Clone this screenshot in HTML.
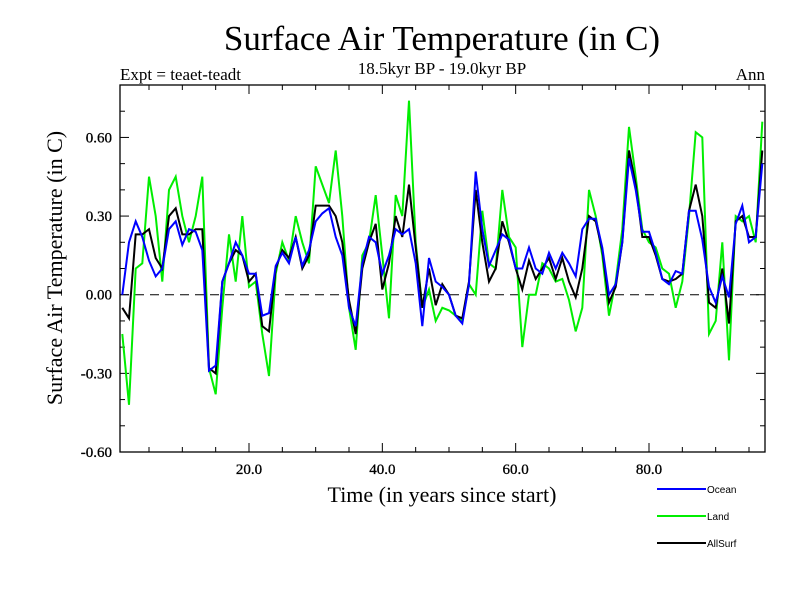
<!DOCTYPE html>
<html><head><meta charset="utf-8"><style>
body{margin:0;background:#fff;}
svg{display:block;font-family:"Liberation Serif",serif;}
.leg{font-family:"Liberation Sans",sans-serif;font-size:10px;}
</style></head><body>
<svg id="chart" width="800" height="600" viewBox="0 0 800 600" xmlns="http://www.w3.org/2000/svg">
<rect width="800" height="600" fill="#fff"/>
<text x="442" y="50" font-size="35" text-anchor="middle">Surface Air Temperature (in C)</text>
<text x="442" y="74" font-size="17" text-anchor="middle">18.5kyr BP - 19.0kyr BP</text>
<text x="120" y="80" font-size="17">Expt = teaet-teadt</text>
<text x="765" y="80" font-size="17" text-anchor="end">Ann</text>
<text transform="translate(62,268) rotate(-90)" font-size="22" text-anchor="middle">Surface Air Temperature (in C)</text>
<text x="442" y="502" font-size="22" text-anchor="middle">Time (in years since start)</text>
<g id="axes"></g>
<g id="series"></g>
<rect x="120" y="85" width="645" height="367" fill="none" stroke="#000" stroke-width="1.3"/>
<g class="leg">
<line x1="657" y1="489" x2="706" y2="489" stroke="#0000ff" stroke-width="2"/>
<text x="707" y="493">Ocean</text>
<line x1="657" y1="516" x2="706" y2="516" stroke="#00ee00" stroke-width="2"/>
<text x="707" y="520">Land</text>
<line x1="657" y1="543" x2="706" y2="543" stroke="#000" stroke-width="2"/>
<text x="707" y="547">AllSurf</text>
</g>
</svg>
<script>
const ocean=[0.0,0.2,0.28,0.22,0.13,0.07,0.1,0.25,0.28,0.19,0.25,0.24,0.17,-0.29,-0.27,0.05,0.12,0.2,0.15,0.08,0.08,-0.08,-0.07,0.11,0.16,0.12,0.22,0.11,0.17,0.28,0.31,0.33,0.22,0.15,-0.05,-0.12,0.12,0.22,0.2,0.08,0.15,0.25,0.23,0.25,0.12,-0.12,0.14,0.05,0.03,0.0,-0.08,-0.11,0.04,0.47,0.25,0.11,0.17,0.23,0.21,0.1,0.1,0.18,0.1,0.08,0.16,0.1,0.16,0.12,0.07,0.25,0.29,0.29,0.18,0.0,0.04,0.2,0.52,0.4,0.24,0.24,0.16,0.06,0.04,0.09,0.08,0.32,0.32,0.21,0.03,-0.03,0.07,-0.01,0.27,0.34,0.2,0.22,0.5];
const land=[-0.15,-0.42,0.1,0.12,0.45,0.3,0.05,0.4,0.45,0.3,0.2,0.3,0.45,-0.28,-0.38,-0.05,0.23,0.05,0.3,0.03,0.05,-0.15,-0.31,0.08,0.2,0.13,0.3,0.2,0.12,0.49,0.42,0.35,0.55,0.3,-0.05,-0.21,0.15,0.2,0.38,0.15,-0.09,0.38,0.3,0.74,0.2,-0.05,0.02,-0.1,-0.05,-0.06,-0.08,-0.1,0.04,0.0,0.32,0.12,0.1,0.4,0.22,0.18,-0.2,0.0,0.0,0.12,0.1,0.05,0.06,-0.02,-0.14,-0.05,0.4,0.3,0.15,-0.08,0.05,0.25,0.64,0.45,0.25,0.2,0.18,0.1,0.08,-0.05,0.05,0.3,0.62,0.6,-0.15,-0.1,0.2,-0.25,0.3,0.28,0.3,0.2,0.66];
const allsurf=[-0.05,-0.09,0.23,0.23,0.25,0.14,0.1,0.3,0.33,0.23,0.23,0.25,0.25,-0.28,-0.3,0.05,0.12,0.17,0.15,0.05,0.08,-0.12,-0.14,0.1,0.17,0.14,0.22,0.1,0.15,0.34,0.34,0.34,0.3,0.2,-0.02,-0.15,0.1,0.2,0.27,0.02,0.12,0.3,0.22,0.42,0.18,-0.05,0.1,-0.04,0.04,0.0,-0.08,-0.09,0.05,0.4,0.2,0.05,0.1,0.28,0.2,0.1,0.02,0.13,0.06,0.1,0.14,0.06,0.14,0.05,-0.01,0.1,0.3,0.28,0.17,-0.03,0.03,0.2,0.55,0.42,0.22,0.22,0.15,0.06,0.05,0.06,0.08,0.32,0.42,0.3,-0.03,-0.05,0.1,-0.11,0.28,0.3,0.22,0.22,0.55];
const yTicks=[-0.6,-0.3,0.0,0.3,0.6];
const yTickLabels=["-0.60","-0.30","0.00","0.30","0.60"];
const xTicks=[20,40,60,80];
const xTickLabels=["20.0","40.0","60.0","80.0"];

const NS="http://www.w3.org/2000/svg";
const X0=0.65,X1=97.4,Y0=-0.6,Y1=0.8,L=120,R=765,T=85,B=452;
const xs=v=>L+(v-X0)/(X1-X0)*(R-L);
const ys=v=>B-(v-Y0)/(Y1-Y0)*(B-T);
const axes=document.getElementById('axes');
function mk(tag,attrs,parent){const e=document.createElementNS(NS,tag);for(const k in attrs)e.setAttribute(k,attrs[k]);parent.appendChild(e);return e;}
for(let v=-0.6;v<=0.8001;v+=0.1){
  const y=ys(v);const major=Math.abs(Math.round(v*10)%3)===0;const len=major?9:5;
  const t1=mk('line',{x1:L,x2:L+len,y1:y,y2:y,stroke:'#000','stroke-width':1},axes);
  
  
  const t2=mk('line',{x1:R,x2:R-len,y1:y,y2:y,stroke:'#000','stroke-width':1},axes);
  
  
}
yTicks.forEach((v,i)=>{
  const t=mk('text',{x:L-8,y:ys(v)+5,'font-size':15,'text-anchor':'end','stroke':'#000','stroke-width':0.3},axes);t.textContent=yTickLabels[i];
  
  
});
for(let v=5;v<X1;v+=5){
  const x=xs(v);const major=v%20===0;const len=major?9:5;
  const a=mk('line',{x1:x,x2:x,y1:B,y2:B-len,stroke:'#000','stroke-width':1},axes);
  
  
  const b=mk('line',{x1:x,x2:x,y1:T,y2:T+len,stroke:'#000','stroke-width':1},axes);
  
  
}
xTicks.forEach((v,i)=>{
  const t=mk('text',{x:xs(v),y:B+22,'font-size':15,'text-anchor':'middle','stroke':'#000','stroke-width':0.3},axes);t.textContent=xTickLabels[i];
  
  
});
const z=mk('line',{x1:L,x2:R,y1:ys(0),y2:ys(0),stroke:'#000','stroke-width':1,'stroke-dasharray':'9,6'},axes);


const sg=document.getElementById('series');
function draw(arr,color,name){
  const pts=arr.map((v,i)=>xs(i+1).toFixed(1)+','+ys(v).toFixed(1)).join(' ');
  const p=mk('polyline',{points:pts,fill:'none',stroke:color,'stroke-width':2,'stroke-linejoin':'miter'},sg);
  
  
}
draw(land,'#00ee00','land-line');
draw(allsurf,'#000000','allsurf-line');
draw(ocean,'#0000ff','ocean-line');
</script>
</body></html>
